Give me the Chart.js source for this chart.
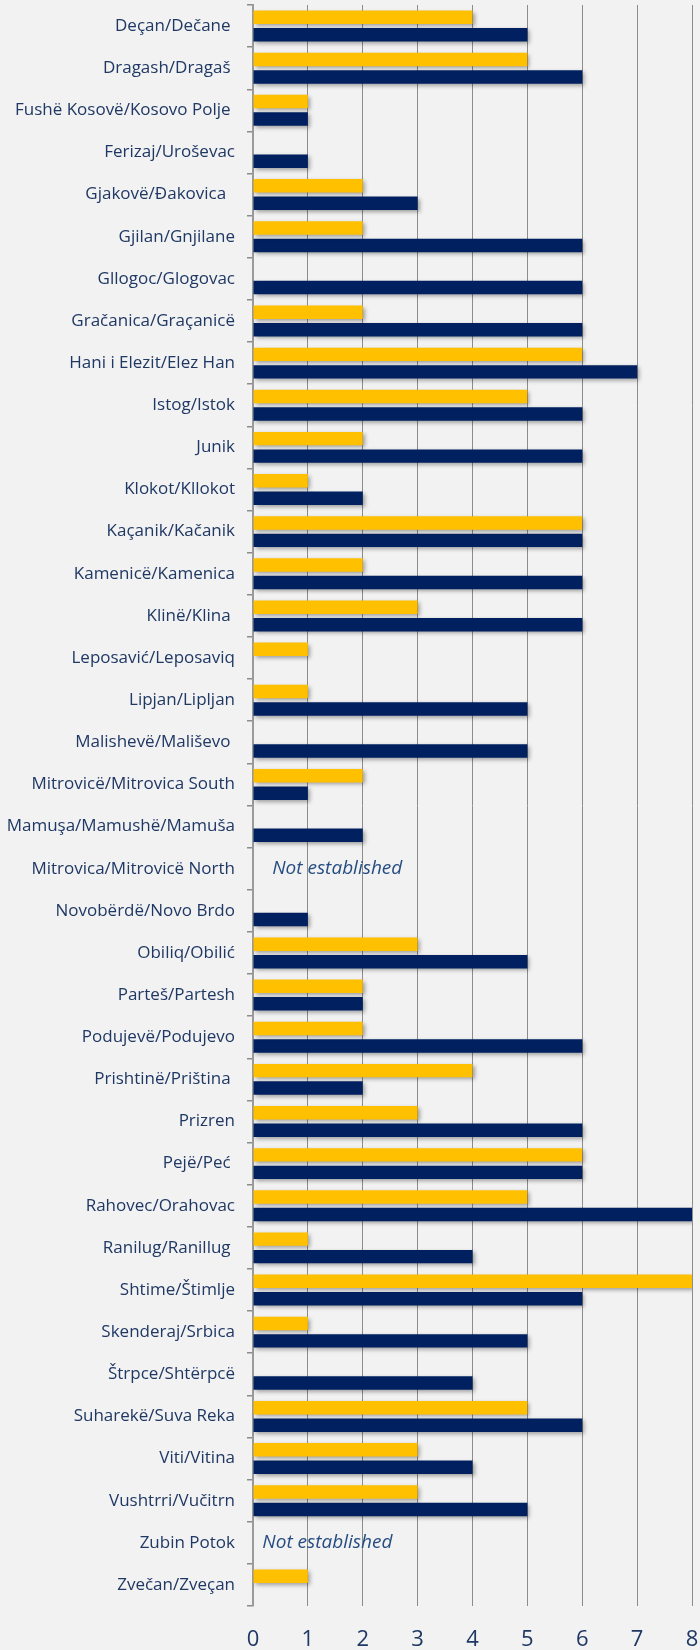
<!DOCTYPE html>
<html lang="en">
    <head>
        <meta charset="UTF-8" />
        <title>Municipalities chart</title>
        <script src="https://cdn.jsdelivr.net/npm/chart.js@4"></script>
        <style>
            body { margin: 0; background: #f2f2f2; }
        </style>
    </head>
    <body>
        <div style="width:700px;height:1650px">
            <canvas id="myChart" width="700" height="1650"></canvas>
        </div>
        <script>
            // categories, top to bottom (some labels keep the trailing space of the original)
            const municipalities = [
                'Deçan/Dečane ', 'Dragash/Dragaš ', 'Fushë Kosovë/Kosovo Polje ', 'Ferizaj/Uroševac',
                'Gjakovë/Đakovica  ', 'Gjilan/Gnjilane', 'Gllogoc/Glogovac', 'Gračanica/Graçanicë',
                'Hani i Elezit/Elez Han', 'Istog/Istok', 'Junik', 'Klokot/Kllokot',
                'Kaçanik/Kačanik', 'Kamenicë/Kamenica', 'Klinë/Klina ', 'Leposavić/Leposaviq',
                'Lipjan/Lipljan', 'Malishevë/Mališevo ', 'Mitrovicë/Mitrovica South', 'Mamuşa/Mamushë/Mamuša',
                'Mitrovica/Mitrovicë North', 'Novobërdë/Novo Brdo', 'Obiliq/Obilić', 'Parteš/Partesh',
                'Podujevë/Podujevo', 'Prishtinë/Priština ', 'Prizren', 'Pejë/Peć ',
                'Rahovec/Orahovac', 'Ranilug/Ranillug ', 'Shtime/Štimlje', 'Skenderaj/Srbica',
                'Štrpce/Shtërpcë', 'Suharekë/Suva Reka', 'Viti/Vitina', 'Vushtrri/Vučitrn',
                'Zubin Potok', 'Zvečan/Zveçan'
            ];
            // yellow series
            const yellowVals = [
                4, 5, 1, 0, 2, 2, 0, 2, 6, 5, 2, 1, 6, 2, 3, 1, 1, 0, 2, 0,
                null, 0, 3, 2, 2, 4, 3, 6, 5, 1, 8, 1, 0, 5, 3, 3, null, 1
            ];
            // navy series
            const navyVals = [
                5, 6, 1, 1, 3, 6, 6, 6, 7, 6, 6, 2, 6, 6, 6, 0, 5, 5, 1, 2,
                null, 1, 5, 2, 6, 2, 6, 6, 8, 4, 6, 5, 4, 6, 4, 5, null, 0
            ];
            const xTicks = [0, 1, 2, 3, 4, 5, 6, 7, 8];
            const notes = [
                { cat: 'Mitrovica/Mitrovicë North', text: 'Not established', x: 0.35 },
                { cat: 'Zubin Potok', text: 'Not established', x: 0.17 }
            ];

            const barShadow = {
                id: 'barShadow',
                beforeDatasetsDraw(chart) {
                    const ctx = chart.ctx;
                    ctx.save();
                    ctx.shadowColor = 'rgba(0, 0, 0, 0.35)';
                    ctx.shadowBlur = 4;
                    ctx.shadowOffsetX = 2;
                    ctx.shadowOffsetY = 2;
                },
                afterDatasetsDraw(chart) {
                    chart.ctx.restore();
                }
            };

            const noteText = {
                id: 'noteText',
                afterDraw(chart) {
                    const ctx = chart.ctx;
                    const xs = chart.scales.x;
                    const ys = chart.scales.y;
                    ctx.save();
                    ctx.font = 'italic 19px "Open Sans"';
                    ctx.fillStyle = '#264d82';
                    ctx.textAlign = 'left';
                    ctx.textBaseline = 'middle';
                    notes.forEach(n => {
                        const i = municipalities.indexOf(n.cat);
                        ctx.fillText(n.text, xs.getPixelForValue(n.x), ys.getPixelForValue(i));
                    });
                    ctx.restore();
                }
            };

            const ctx = document.getElementById('myChart').getContext('2d');
            const myChart = new Chart(ctx, {
                type: 'bar',
                data: {
                    labels: municipalities,
                    datasets: [
                        {
                            data: yellowVals,
                            backgroundColor: '#ffc000',
                            borderWidth: 0
                        },
                        {
                            data: navyVals,
                            backgroundColor: '#002060',
                            borderWidth: 0
                        }
                    ]
                },
                options: {
                    responsive: false,
                    animation: false,
                    indexAxis: 'y',
                    categoryPercentage: 0.83,
                    barPercentage: 0.77,
                    layout: { padding: { top: 5, left: 0, right: 0, bottom: 0 } },
                    plugins: {
                        legend: { display: false },
                        tooltip: { enabled: false }
                    },
                    scales: {
                        x: {
                            min: 0,
                            max: 8,
                            afterBuildTicks: axis => { axis.ticks = xTicks.map(v => ({ value: v })); },
                            afterFit: axis => {
                                axis.height = 44;
                                axis.paddingLeft = 0;
                                axis.paddingRight = 8;
                            },
                            grid: { color: '#8c8c8c', lineWidth: 1, drawTicks: false },
                            border: { display: false },
                            ticks: {
                                padding: 21,
                                color: '#1f3864',
                                font: { family: 'Open Sans', size: 22 }
                            }
                        },
                        y: {
                            afterFit: axis => {
                                axis.width = 253;
                                axis.paddingTop = 0;
                                axis.paddingBottom = 0;
                            },
                            grid: {
                                drawOnChartArea: false,
                                drawTicks: true,
                                tickLength: 6,
                                color: '#8c8c8c',
                                lineWidth: 1.5
                            },
                            border: { display: true, color: '#9a9a9a', width: 2 },
                            ticks: {
                                padding: 12,
                                color: '#1f3864',
                                font: { family: 'Open Sans', size: 17 }
                            }
                        }
                    }
                },
                plugins: [barShadow, noteText]
            });
        </script>
    </body>
</html>
